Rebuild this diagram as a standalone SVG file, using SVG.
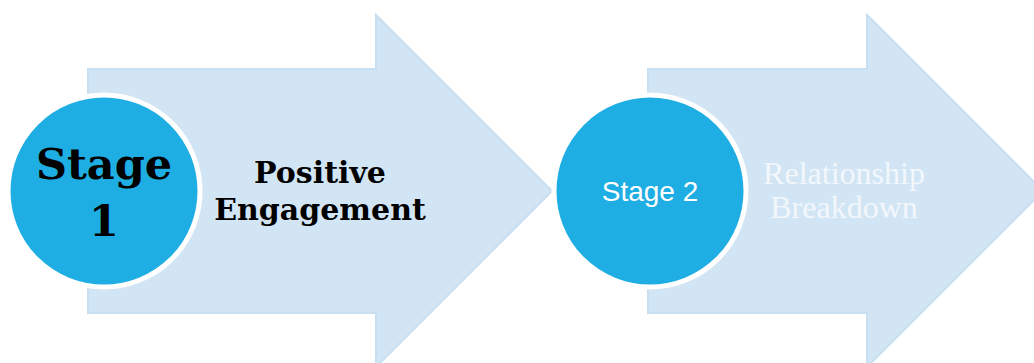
<svg xmlns="http://www.w3.org/2000/svg" width="1034" height="363" viewBox="0 0 1034 363">
<style>
.arrow{fill:#D2E5F4;stroke:#C8DEF1;stroke-width:2}
.circ{fill:#1FAEE3;stroke:#FFFFFF;stroke-width:5}
.bold{font-family:"DejaVu Serif","Liberation Serif",serif;font-weight:bold;fill:#000;text-anchor:middle}
.rel{font-family:"Liberation Serif",serif;font-size:32px;fill:#F2F7FC;text-anchor:middle}
.s2{font-family:"Liberation Sans",Arial,sans-serif;font-size:28px;fill:#FFFFFF;text-anchor:middle}
</style>
<rect width="1034" height="363" fill="#FFFFFF"/>
<g id="arrow1">
<path class="arrow" d="M88,69 H376 V15 L552,191 L376,367 V313 H88 Z"/>
</g>
<g id="arrow2">
<path class="arrow" d="M648,69 H867 V15 L1043,191 L867,367 V313 H648 Z"/>
</g>
<g id="stage1">
<circle class="circ" cx="104" cy="191" r="96"/>
<text class="bold" x="104" y="179" font-size="43">Stage</text>
<text class="bold" x="104" y="236" font-size="43">1</text>
</g>
<g id="positive">
<text class="bold" x="320" y="183" font-size="30">Positive</text>
<text class="bold" x="320" y="220" font-size="30">Engagement</text>
</g>
<g id="stage2">
<circle class="circ" cx="650" cy="191" r="96"/>
<text class="s2" x="650" y="201">Stage 2</text>
</g>
<g id="breakdown">
<text class="rel" x="844" y="184">Relationship</text>
<text class="rel" x="844" y="218">Breakdown</text>
</g>
<g id="connectors"></g>
</svg>
